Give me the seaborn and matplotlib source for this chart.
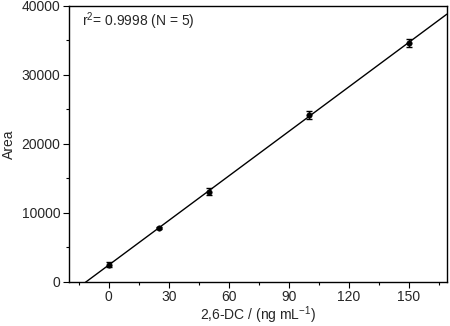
import numpy as np
import pandas as pd
import matplotlib
matplotlib.use('Agg')
import matplotlib.pyplot as plt
import seaborn as sns
from matplotlib.ticker import MultipleLocator

# calibration data
conc = [0, 25, 50, 100, 150]
area = [2500, 7800, 13100, 24200, 34600]
err = [350, 150, 550, 550, 600]

df = pd.DataFrame({'conc': conc, 'area': area, 'err': err})

sns.set_style('ticks')
plt.rcParams['font.family'] = ['Liberation Sans', 'DejaVu Sans']
plt.rcParams['mathtext.fontset'] = 'custom'
plt.rcParams['mathtext.rm'] = 'Liberation Sans'

fig, ax = plt.subplots(figsize=(4.5, 3.26), dpi=100)
fig.subplots_adjust(left=0.153, right=0.993, top=0.982, bottom=0.135)

ax.set_xlim(-20, 169)
ax.set_ylim(0, 40000)

# fitted line across the whole axis
sns.regplot(x='conc', y='area', data=df, ax=ax, ci=None, scatter=False,
            truncate=False, line_kws={'color': 'black', 'lw': 1.0})
ax.errorbar(df['conc'], df['area'], yerr=df['err'], fmt='none',
            ecolor='black', elinewidth=1.0, capsize=2.5, capthick=1.0)
sns.scatterplot(x='conc', y='area', data=df, ax=ax, color='black', s=16,
                edgecolor='black', zorder=5)

ax.set_xlim(-20, 169)
ax.set_ylim(0, 40000)
ax.xaxis.set_major_locator(MultipleLocator(30))
ax.xaxis.set_minor_locator(MultipleLocator(15))
ax.yaxis.set_major_locator(MultipleLocator(10000))
ax.yaxis.set_minor_locator(MultipleLocator(5000))
ax.tick_params(which='both', direction='out', top=False, right=False,
               labelsize=10, width=0.8, color='black', pad=2)
ax.tick_params(which='major', length=4)
ax.tick_params(which='minor', length=2.5)
for s in ax.spines.values():
    s.set_linewidth(1.0)
    s.set_color('black')

ax.set_xlabel('2,6-DC / (ng mL$^{-1}$)', fontsize=10, labelpad=0)
ax.set_ylabel('Area', fontsize=10, labelpad=4)
ax.text(0.035, 0.945, 'r$^{2}$= 0.9998 (N = 5)', transform=ax.transAxes,
        fontsize=10, va='center', ha='left')

fig.savefig('out.png', dpi=100)
